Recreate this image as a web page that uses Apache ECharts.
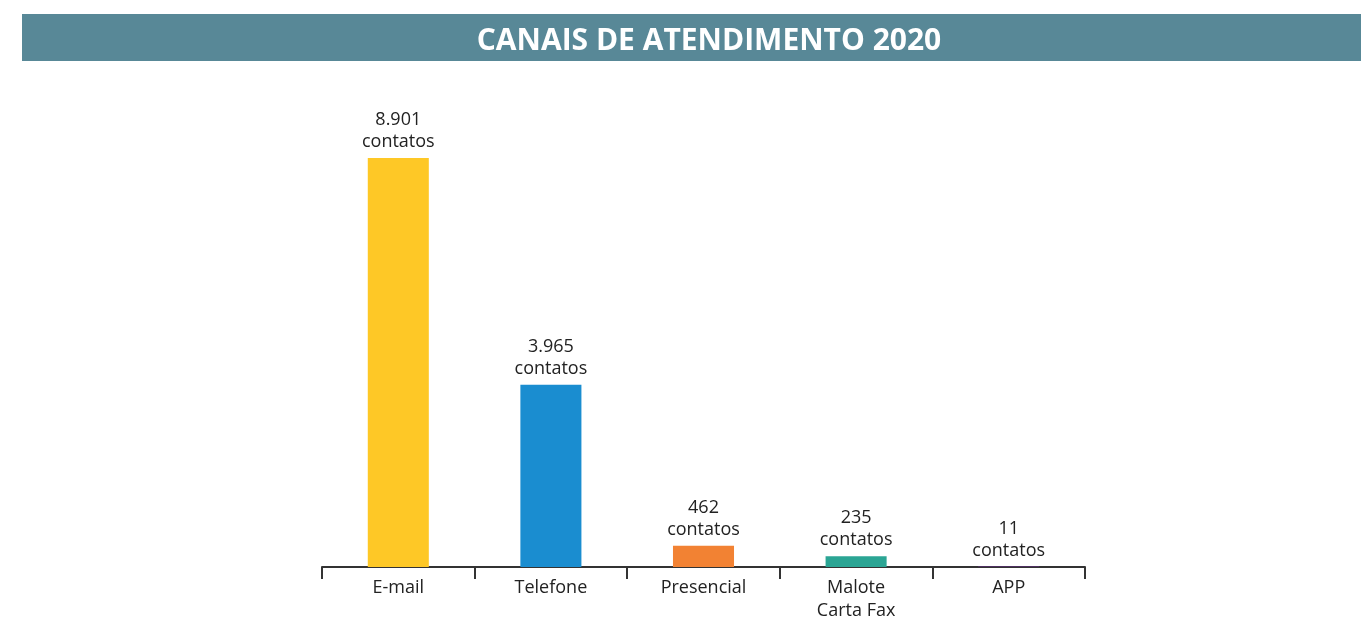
<!DOCTYPE html>
<html>
<head>
    <meta charset="utf-8"/>
    <title>Canais de atendimento 2020</title>
    <script src="https://cdn.jsdelivr.net/npm/echarts@6/dist/echarts.min.js"></script>
</head>
<body style="margin:0">
    <div id="chart" style="width:1361px;height:619px"></div>
<script type="text/javascript">
    // dados
    var categorias = ['E-mail', 'Telefone', 'Presencial', 'Malote\nCarta Fax', 'APP'];
    var contatos = [8901, 3965, 462, 235, 11];
    var cores = ['#FEC826', '#1A8DD0', '#F28233', '#2BA594', '#6B2C8E'];

    var chart = echarts.init(document.getElementById('chart'));

    var option = {
        animation: false,
        title: {
            text: 'CANAIS DE ATENDIMENTO 2020',
            left: 704,
            top: 21,
            textAlign: 'center',
            textStyle: {
                color: '#fff',
                fontFamily: 'Open Sans',
                fontWeight: 'bold',
                fontSize: 30
            }
        },
        graphic: [{
            type: 'rect',
            z: -1,
            shape: { x: 22, y: 14, width: 1345, height: 47 },
            style: { fill: '#588897' }
        }],
        grid: {
            left: 322,
            right: 276,
            top: 107.5,
            bottom: 52,
            outerBoundsMode: 'none',
            containLabel: false
        },
        xAxis: {
            type: 'category',
            data: categorias,
            axisLine: { lineStyle: { color: '#333', width: 2 } },
            axisTick: { show: true, length: 12, lineStyle: { color: '#333', width: 2 } },
            axisLabel: {
                color: '#222',
                fontFamily: 'Open Sans',
                fontSize: 18,
                lineHeight: 23,
                margin: 9
            }
        },
        yAxis: {
            type: 'value',
            min: 0,
            max: 10000,
            show: false
        },
        series: [{
            type: 'bar',
            barWidth: '40%',
            data: contatos.map(function (v, i) {
                return { value: v, itemStyle: { color: cores[i] } };
            }),
            label: {
                show: true,
                position: 'top',
                distance: 5,
                color: '#222',
                fontFamily: 'Open Sans',
                fontSize: 18,
                lineHeight: 22,
                formatter: function (p) {
                    return p.value.toLocaleString('pt-BR') + '\ncontatos';
                }
            }
        }]
    };
    chart.setOption(option);
</script>
</body>
</html>
